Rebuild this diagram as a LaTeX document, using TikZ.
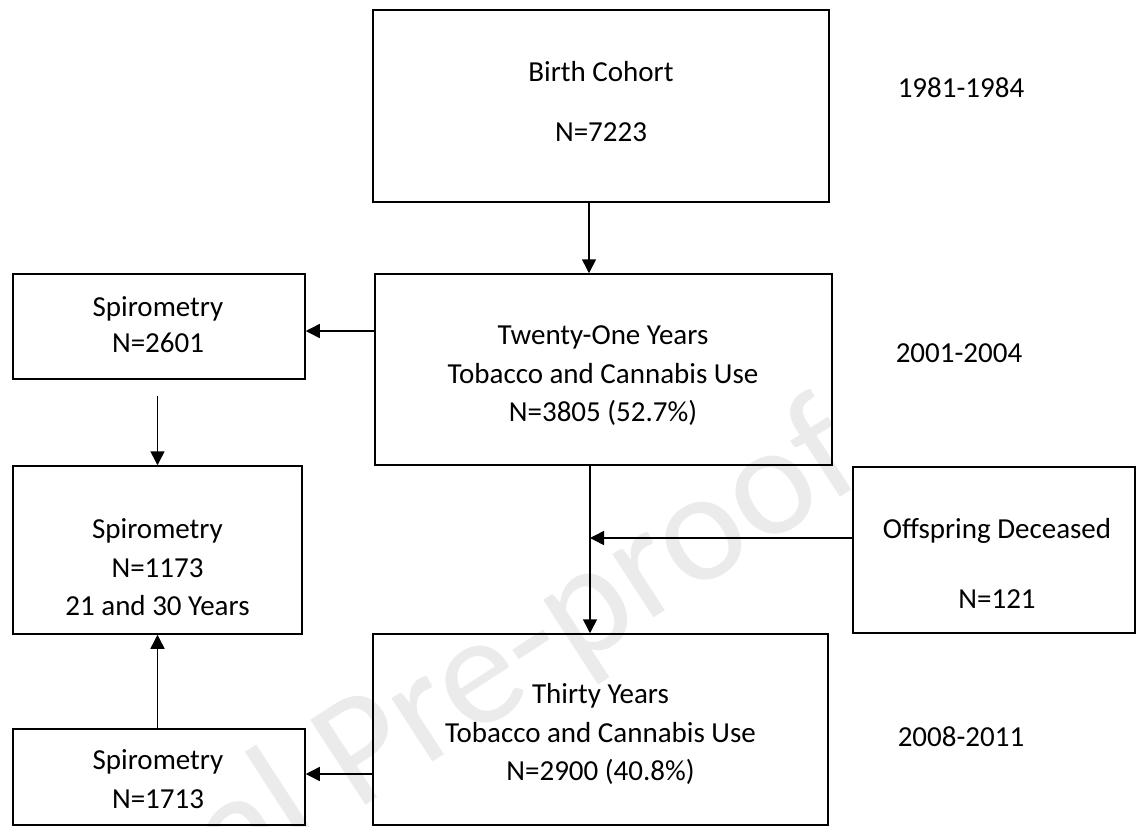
\documentclass[tikz,border=0pt]{standalone}
\usepackage{fontspec}
\setmainfont{Carlito}
\usetikzlibrary{arrows.meta}
\begin{document}
\begin{tikzpicture}[x=1pt,y=-1pt,
  box/.style 2 args={draw=black, line width=0.75pt, inner sep=0pt, minimum width=#1, minimum height=#2},
  txt/.style={align=center, inner sep=0pt, font=\fontsize{14.5pt}{19.3pt}\selectfont},
  arr/.style={line width=0.75pt, -{Triangle[length=7pt,width=7pt]}},
  wm/.style={text=black!8, inner sep=0pt, font=\fontsize{79pt}{79pt}\selectfont}
]
\fill[white] (0,0) rectangle (568,413);
\useasboundingbox (0,0) rectangle (568,413);

% watermark
\node[wm, rotate=33, anchor=base east] (wmark) at (435,239) {Journal Pre-proof};

% boxes
\node[box={228pt}{96pt}] (birth) at (300.5,53) {};
\node[box={228.5pt}{95.5pt}] (t21) at (301.75,184.75) {};
\node[box={146pt}{52.5pt}] (sp1) at (79.5,163.25) {};
\node[box={144.5pt}{84pt}] (sp2) at (78.75,275) {};
\node[box={141pt}{83pt}] (off) at (497,275) {};
\node[box={227.5pt}{95.5pt}] (t30) at (300.25,364.75) {};
\node[box={146pt}{48pt}] (sp3) at (79.5,388.5) {};

% texts
\node[txt] (birth-t) at (300.5,51) {Birth Cohort\\[10.7pt]N=7223};
\node[txt] (t21-t) at (301.5,187.8) {Twenty-One Years\\Tobacco and Cannabis Use\\N=3805 (52.7\%)};
\node[txt] (sp1-t) at (79,162.5) {Spirometry\\[-1.3pt]N=2601};
\node[txt] (sp2-t) at (78.75,283.7) {Spirometry\\N=1173\\21 and 30 Years};
\node[txt] (off-t) at (498.5,281.5) {Offspring Deceased\\[15.7pt]N=121};
\node[txt] (t30-t) at (300.25,367) {Thirty Years\\Tobacco and Cannabis Use\\N=2900 (40.8\%)};
\node[txt] (sp3-t) at (79,389.5) {Spirometry\\N=1713};

\node[txt] (y1) at (480.5,44) {1981-1984};
\node[txt] (y2) at (479.5,176.5) {2001-2004};
\node[txt] (y3) at (480.5,368.5) {2008-2011};

% connectors
\draw[arr] ([xshift=-6pt]birth.south) -- ([xshift=-6pt]birth.south |- t21.north);
\draw[arr] ([yshift=-2.25pt]t21.west |- sp1.east) -- ([yshift=-2.25pt]sp1.east);
\coordinate (s1b) at ([yshift=-8pt]sp1.south);
\draw[arr] (s1b -| sp2.north) -- (sp2.north);
\coordinate (v) at ([xshift=-6.75pt]t21.south);
\draw[arr] (v) -- (v |- t30.north);
\coordinate (h) at ([yshift=6pt]off.west);
\draw[arr] (h) -- (v |- h);
\draw[arr] ([yshift=1.5pt]t30.west |- sp3.east) -- ([yshift=1.5pt]sp3.east);
\draw[arr] (sp3.north -| sp2.south) -- (sp2.south);
\end{tikzpicture}
\end{document}
